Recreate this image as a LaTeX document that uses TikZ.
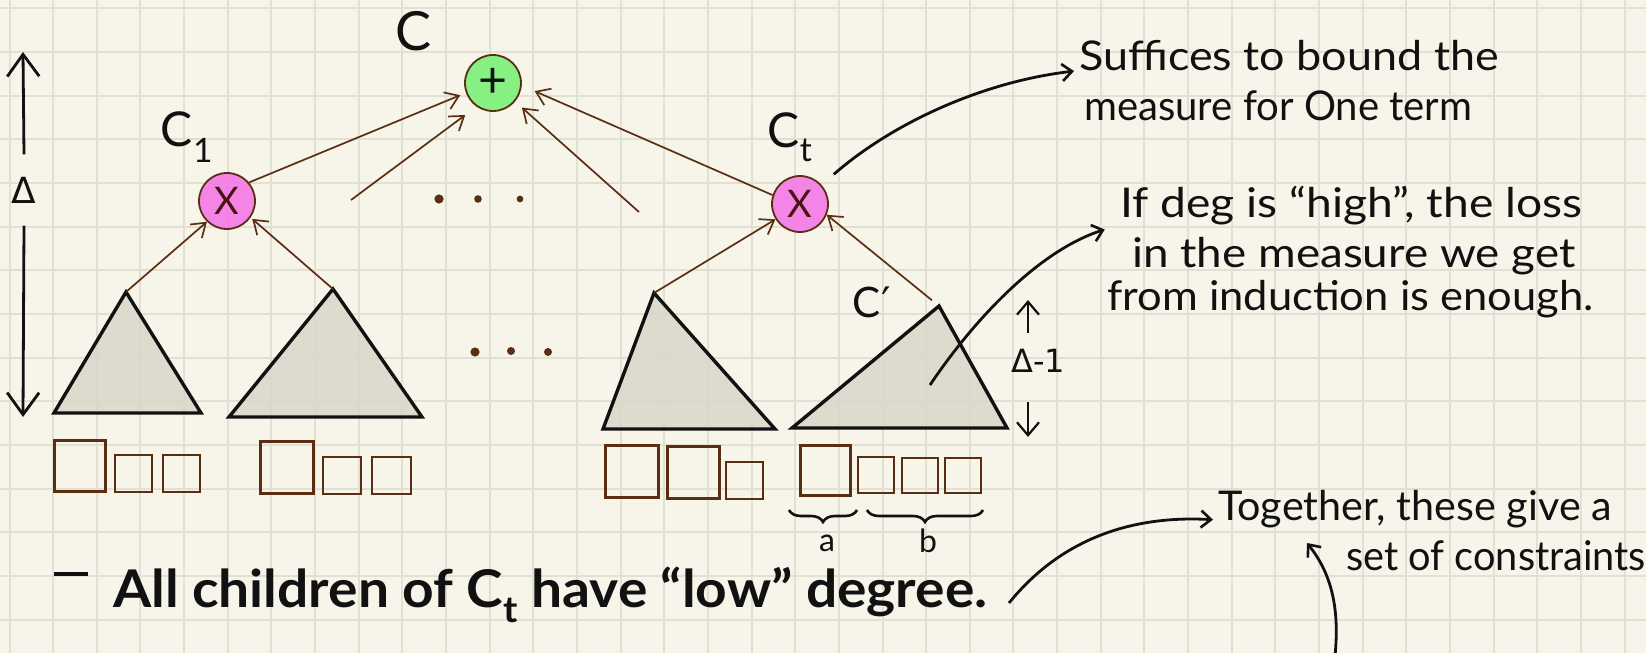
\documentclass[tikz,border=0pt]{standalone}
\usepackage{fontspec}
\setmainfont{Lato}
\newfontfamily\dvfont{DejaVu Sans}
\usetikzlibrary{arrows.meta,decorations.pathreplacing,calc}
\definecolor{paper}{HTML}{F7F5EA}
\definecolor{gridc}{HTML}{E2E0D2}
\definecolor{brn}{HTML}{5A2E12}
\definecolor{trif}{HTML}{D8D7CA}
\definecolor{grn}{HTML}{7DF07A}
\definecolor{pnk}{HTML}{F47CE6}
\definecolor{ink}{HTML}{111111}
\definecolor{xred}{HTML}{4A1212}
\tikzset{
  conn/.style={draw=brn, line width=1.7pt, -{Straight Barb[length=13pt,width=18pt,line width=1.7pt]}},
  annline/.style={draw=ink, line width=2.8pt, -{Straight Barb[length=10pt,width=17pt,line width=2.6pt]}},
  bigarr/.style={draw=ink, line width=2.8pt, -{Straight Barb[length=22pt,width=32pt,line width=2.8pt]}},
  smallarr/.style={draw=ink, line width=2.2pt, -{Straight Barb[length=13pt,width=22pt,line width=2.2pt]}},
  trist/.style={draw=ink, line width=3.4pt, fill=trif, fill opacity=0.85, line join=miter},
  bxa/.style={draw=brn, line width=3pt},
  bxb/.style={draw=brn, line width=2pt},
  gate/.style={circle, draw=brn, line width=1.8pt, minimum size=56pt, inner sep=0pt, fill opacity=0.92, text opacity=1},
  ann/.style={inner sep=0pt, text=ink, font=\fontsize{41}{44}\selectfont},
  botx/.style={inner sep=0pt, text=ink, font=\fontsize{52}{56}\selectfont\bfseries},
  lbl/.style={inner sep=0pt, text=ink, font=\fontsize{54}{58}\selectfont},
  brc/.style={draw=ink, line width=2.6pt, decorate, decoration={brace, mirror, amplitude=12pt}},
}
\begin{document}
\begin{tikzpicture}[x=1pt,y=-1pt]
\useasboundingbox (0,0) rectangle (1646,653);
\fill[paper] (0,0) rectangle (1646,653);
\foreach \i in {0,...,37} \draw[gridc, line width=2pt] ({9.5+43.65*\i},0) -- ++(0,653);
\foreach \j in {0,...,14} \draw[gridc, line width=2pt] (0,{8.4+43.65*\j}) -- ++(1646,0);

% triangles
\coordinate (a1) at (126,292);
\coordinate (a2) at (333,289);
\coordinate (a3) at (654,293);
\coordinate (a4) at (939,306);
\draw[trist] (a1) -- (201,413) -- (54,413) -- cycle;
\draw[trist] (a2) -- (422,417) -- (229,417) -- cycle;
\draw[trist] (a3) -- (775,429) -- (603,429) -- cycle;
\draw[trist] (a4) -- (1007,428) -- (792,428) -- cycle;

% boxes
\draw[bxa] (54,440) rectangle (105,491);
\draw[bxb] (115,455) rectangle (152,492);
\draw[bxb] (163,455) rectangle (200,492);
\draw[bxa] (260,441) rectangle (313,493);
\draw[bxb] (323,457) rectangle (361,494);
\draw[bxb] (372,457) rectangle (411,494);
\draw[bxa] (605,445) rectangle (658,497);
\draw[bxa] (667,446) rectangle (719,498);
\draw[bxb] (726,462) rectangle (763,499);
\draw[bxa] (800,445) rectangle (850,495);
\draw[bxb] (858,457) rectangle (894,493);
\draw[bxb] (902,458) rectangle (938,493);
\draw[bxb] (945,458) rectangle (981,493);

% braces
\draw[brc] (789,510) -- (857,510);
\draw[brc] (867,510) -- (983,510);
\node[inner sep=0pt, text=ink, font=\fontsize{32}{34}\selectfont] (la) at (827,543) {a};
\node[inner sep=0pt, text=ink, font=\fontsize{32}{34}\selectfont] (lb) at (928,541) {b};

% gates
\node[gate, fill=grn, text=ink, font=\fontsize{50}{50}\selectfont] (plus) at (493,83) {+};
\node[gate, fill=pnk, text=xred, font=\fontsize{38}{38}\selectfont] (m1) at (227,201) {X};
\node[gate, fill=pnk, text=xred, font=\fontsize{38}{38}\selectfont] (mt) at (800,204) {X};

% labels
\node[lbl] (cl) at (414,31) {C};
\node[lbl, font=\fontsize{48}{50}\selectfont] (c1l) at (187,137) {C\textsubscript{1}};
\node[lbl, font=\fontsize{48}{50}\selectfont] (ctl) at (790,137) {C\textsubscript{t}};
\node[lbl, font=\fontsize{42}{44}\selectfont] (cpl) at (872,302) {C{\dvfont\kern1pt′}};

% stubs
\coordinate (s1) at (351,200);
\coordinate (s2) at (639,212);

% connectors
\draw[conn] (a1) -- (m1.226);
\draw[conn, shorten >=2pt] (a2) -- (m1.-35);
\draw[conn] (a3) -- (mt.212);
\draw[conn, shorten <=9pt] (a4) -- (mt.-22);
\draw[conn, shorten >=6pt] (m1.40) -- (plus.200);
\draw[conn, shorten >=14pt] (s1) -- (plus.235);
\draw[conn, shorten >=9pt] (s2) -- (plus.-40);
\draw[conn, shorten >=14pt] (mt.162) -- (plus.-5);

% dots
\fill[brn] (439,199) circle (4.6pt);
\fill[brn] (478,199) circle (3.8pt);
\fill[brn] (520,199) circle (3.4pt);
\fill[brn] (475,352) circle (4.6pt);
\fill[brn] (511,351) circle (4pt);
\fill[brn] (548,352) circle (4pt);

% left Delta arrow
\node[inner sep=0pt, minimum height=71pt, text=ink, font=\dvfont\fontsize{36}{36}\selectfont] (dl) at (24,190) {Δ};
\coordinate (dtop) at (23,52);
\coordinate (dbot) at (23,417);
\draw[bigarr] (dl.north) -- (dtop);
\draw[bigarr] (dl.south) -- (dbot);

% Delta-1
\node[inner sep=0pt, text=ink, font=\dvfont\fontsize{32}{32}\selectfont] (dm1) at (1038,361) {Δ-1};
\coordinate (u0) at (1028,333);
\coordinate (u1) at (1028,300);
\coordinate (w0) at (1028,402);
\coordinate (w1) at (1028,437);
\draw[smallarr] (u0) -- (u1);
\draw[smallarr] (w0) -- (w1);

% annotation texts
\node[ann, anchor=base west] (suf1) at (1079,70) {\scalebox{1.095}[1]{Suffices to bound the}};
\node[ann, anchor=base west] (suf2) at (1084,120) {\scalebox{0.977}[1]{measure for One term}};
\node[ann, anchor=base west] (id1) at (1120,217) {\scalebox{1.127}[1]{If deg is “high”, the loss}};
\node[ann, anchor=base west] (id2) at (1132,267) {\scalebox{1.117}[1]{in the measure we get}};
\node[ann, anchor=base west] (id3) at (1107,310) {\scalebox{1.061}[1]{from induction is enough.}};
\node[ann, anchor=base west] (tog1) at (1218,520) {\scalebox{1.008}[1]{Together, these give a}};
\node[ann, anchor=base west] (tog2) at (1346,570) {\scalebox{0.968}[1]{set of constraints}};
\draw[ink, line width=4pt] (54,574) -- (88,574);
\node[botx, anchor=base west] (low) at (113,607) {\scalebox{1.06}[1]{All children of C\textsubscript{t} have “low” degree.}};

% annotation curves
\draw[annline, shorten <=16pt, shorten >=5pt] (mt) .. controls (890,125) and (980,82) .. (suf1.south west);
\coordinate (c4in) at (930,385);
\draw[annline, shorten >=16pt] (c4in) .. controls (975,318) and (1040,250) .. (id1.south west);
\coordinate (c3s) at (1009,603);
\draw[annline, shorten >=5pt] (c3s) .. controls (1060,540) and (1130,515) .. (tog1.base west);
\coordinate (c5s) at (1335,656);
\draw[annline] (c5s) .. controls (1340,605) and (1330,572) .. ($(tog2.base west)+(-39,-27)$);
\end{tikzpicture}
\end{document}
